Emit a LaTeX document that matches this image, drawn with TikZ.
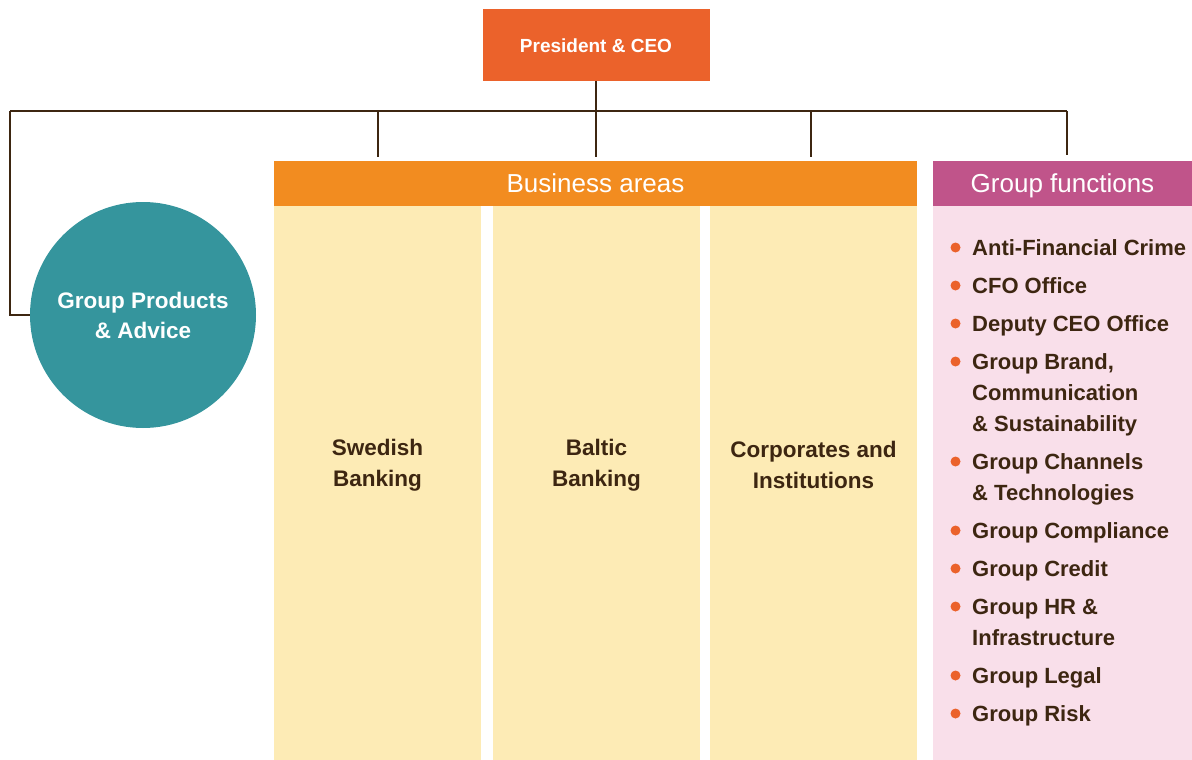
\documentclass[tikz,border=0pt]{standalone}
\usepackage{fontspec}
\setmainfont{Liberation Sans}
\definecolor{ceocol}{HTML}{EB622B}
\definecolor{bacol}{HTML}{F28C20}
\definecolor{colcol}{HTML}{FDEBB5}
\definecolor{gfcol}{HTML}{C0548A}
\definecolor{gfbody}{HTML}{F9DFEA}
\definecolor{tealcol}{HTML}{35959D}
\definecolor{browncol}{HTML}{3D2611}
\definecolor{bulcol}{HTML}{EB622B}
\begin{document}
\begin{tikzpicture}[x=1pt,y=-1pt,
  box/.style={inner sep=0pt, outer sep=0pt, draw=none},
  conn/.style={draw=browncol, line width=2.2pt},
  hdr/.style={text=white, text height=20pt, text depth=3pt, font=\fontsize{26}{30}\selectfont},
  coltext/.style={text=browncol, align=center, font=\fontsize{22.5}{31}\selectfont\bfseries},
  item/.style={text=browncol, align=left, anchor=base west, inner sep=0pt, font=\fontsize{22}{31}\selectfont\bfseries},
  bullet/.style={circle, fill=bulcol, inner sep=0pt, minimum size=10pt}
]
\useasboundingbox (0,0) rectangle (1192,760);
% boxes
\node[box, fill=ceocol, minimum width=227pt, minimum height=72pt, text=white, text height=16pt, text depth=1pt,
      font=\fontsize{19}{23}\selectfont\bfseries] (ceo) at (596,45) {President \& CEO};
\node[box, fill=bacol, minimum width=643pt, minimum height=45pt, hdr] (ba) at (595.5,183.5) {Business areas};
\node[box, fill=colcol, minimum width=207pt, minimum height=554pt] (sb) at (377.5,483) {};
\node[box, fill=colcol, minimum width=207pt, minimum height=554pt] (bb) at (596.5,483) {};
\node[box, fill=colcol, minimum width=207pt, minimum height=554pt] (ci) at (813.5,483) {};
\node[coltext] (sbt) at (377.5,465) {Swedish\\Banking};
\node[coltext] (bbt) at (596.5,465) {Baltic\\Banking};
\node[coltext] (cit) at (813.5,465) {Corporates and\\Institutions};
\node[box, fill=gfcol, minimum width=259pt, minimum height=45pt, hdr] (gfh) at (1062.5,183.5) {Group functions};
\node[box, fill=gfbody, minimum width=259pt, minimum height=554pt] (gfb) at (1062.5,483) {};
\node[circle, fill=tealcol, minimum size=226pt, inner sep=0pt, text=white, align=center,
      font=\fontsize{22.5}{30}\selectfont\bfseries] (gpa) at (143,315) {Group Products\\\& Advice};
% connectors
\coordinate (L) at (10,111);
\coordinate (R) at (1067,111);
\draw[conn] (L) -- (R);
\draw[conn] (L) |- (gpa.west);
\draw[conn] (ceo.south) -- ([yshift=4pt]ceo.south |- ba.north);
\draw[conn] (378,111) -- ([yshift=4pt]378,161);
\draw[conn] (811,111) -- ([yshift=4pt]811,161);
\draw[conn] (R) -- ([yshift=6pt]R |- gfh.north);
% list: number / first baseline / last baseline / text
\foreach \n/\y/\z/\t in {1/255/255/{Anti-Financial Crime},2/293/293/{CFO Office},3/331/331/{Deputy CEO Office},
   4/369/431/{Group Brand,\\Communication\\\& Sustainability},5/469/500/{Group Channels\\\& Technologies},
   6/538/538/{Group Compliance},7/576/576/{Group Credit},8/614/645/{Group HR \&\\Infrastructure},
   9/683/683/{Group Legal},10/721/721/{Group Risk}}{
  \node[item] (f\n) at (972,\z) {\t};
  \node[bullet] (b\n) at (955.5,\y-7.5) {};
}
\end{tikzpicture}
\end{document}
